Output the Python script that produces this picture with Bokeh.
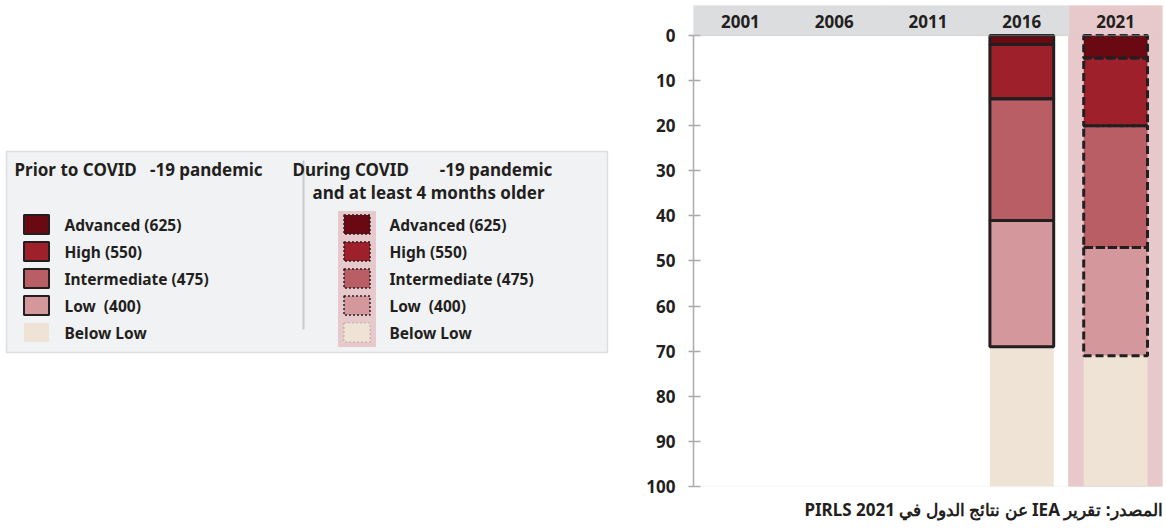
from bokeh.plotting import figure
from bokeh.layouts import row
from bokeh.models import Range1d, ColumnDataSource, FactorRange, BoxAnnotation, Title, FixedTicker
from bokeh.core.properties import value
from bokeh.embed import file_html
from bokeh.resources import INLINE

# ---------------- data ----------------
NB = "\u00a0"
years = ["2001", "2006", "2011", "2016", "2021"]
levels = ["Advanced (625)", "High (550)", "Intermediate (475)", "Low" + NB + " (400)", "Below Low"]
keys = ["adv", "high", "inter", "low", "below"]
pct_2016 = [2, 12, 27, 28, 31]      # prior to COVID-19
pct_2021 = [5, 15, 27, 24, 29]      # during COVID-19
level_colors = ["#6b0913", "#9e202b", "#b95e65", "#d4979b", "#eee3d5"]
yticks = [0, 10, 20, 30, 40, 50, 60, 70, 80, 90, 100]
header_prior = "Prior to COVID" + NB * 3 + "-19 pandemic"
header_during = ["During COVID" + NB * 7 + "-19 pandemic", "and at least 4 months older"]
source_text = "\u202bالمصدر: تقرير IEA عن نتائج الدول في PIRLS 2021\u202c"

FONT = "Noto Sans"
INK = "#231f20"
PINK = "#e8c9cb"
GRAY = "#dcdddf"
H = 529
TOP, BOTTOM = 5, 43          # frame top / bottom borders (px)

# ---------------- chart ----------------
p = figure(width=526, height=H, x_range=FactorRange(*years), y_range=Range1d(100, -6.65),
           output_backend="svg", toolbar_location=None,
           min_border_left=53, min_border_right=4, min_border_top=TOP, min_border_bottom=BOTTOM)
p.xaxis.visible = False
p.grid.visible = False
p.outline_line_color = None
p.background_fill_color = "white"
p.border_fill_color = "white"

# header band and 2021 column background
p.vbar(x=["2021"], top=-6.65, bottom=100, width=1.0, color=PINK)
p.vbar(x=years[:4], top=-6.65, bottom=0, width=1.0, color=GRAY)
p.add_layout(BoxAnnotation(top=0, bottom=100, fill_alpha=0, line_color="#cfd0d2", line_width=1.5))
p.text(x=years, y=[-3.2] * len(years), text=years, text_align="center", text_baseline="middle",
       text_font=value(FONT), text_font_style="bold", text_font_size="17px", text_color=INK)

src16 = ColumnDataSource(dict(year=["2016"], **{k: [v] for k, v in zip(keys, pct_2016)}))
src21 = ColumnDataSource(dict(year=["2021"], **{k: [v] for k, v in zip(keys, pct_2021)}))

p.vbar_stack(keys, x="year", width=0.68, source=src16, fill_color=level_colors, line_color=None)
p.vbar_stack(keys[:4], x="year", width=0.68, source=src16, fill_alpha=0, line_color=INK, line_width=3)
p.vbar_stack(keys, x="year", width=0.68, source=src21, fill_color=level_colors, line_color=None)
p.vbar_stack(keys[:4], x="year", width=0.68, source=src21, fill_alpha=0, line_color=INK,
             line_width=3, line_dash="8 4")

ax = p.yaxis[0]
ax.ticker = FixedTicker(ticks=yticks)
ax.bounds = (0, 100)
ax.axis_line_color = "#a7a9ac"
ax.axis_line_width = 1.5
ax.major_tick_line_color = "#a7a9ac"
ax.major_tick_line_width = 1.5
ax.major_tick_in = 7
ax.major_tick_out = 5
ax.minor_tick_line_color = None
ax.major_label_standoff = 13
ax.major_label_text_font = FONT
ax.major_label_text_font_style = "bold"
ax.major_label_text_font_size = "17px"
ax.major_label_text_color = INK

t = Title(text=source_text, align="right", text_font=FONT, text_font_style="bold",
          text_font_size="17px", text_color=INK, standoff=18)
p.add_layout(t, "below")

# ---------------- legend panel (data units = page pixels) ----------------
lg = figure(width=640, height=H, x_range=Range1d(0, 640), y_range=Range1d(H - BOTTOM, TOP),
            output_backend="svg", toolbar_location=None,
            min_border_left=0, min_border_right=0, min_border_top=TOP, min_border_bottom=BOTTOM,
            x_axis_location=None, y_axis_location=None)
lg.grid.visible = False
lg.outline_line_color = None
lg.background_fill_color = "white"
lg.border_fill_color = "white"

lg.quad(left=6, right=607, top=151, bottom=352, fill_color="#f1f2f4", line_color="#dcdde0", line_width=1.5)
lg.segment(x0=[303], y0=[160], x1=[303], y1=[329], line_color="#c9cacc", line_width=2)

hdr_font = dict(text_font=value(FONT), text_font_style="bold", text_font_size="17px",
                text_color=INK, text_baseline="middle")
item_font = dict(hdr_font, text_font_size="15.5px")
lg.text(x=[14], y=[169], text=[header_prior], text_align="left", **hdr_font)
lg.text(x=[292], y=[169], text=[header_during[0]], text_align="left", **hdr_font)
lg.text(x=[428], y=[192], text=[header_during[1]], text_align="center", **hdr_font)

row_y = [224 + 27 * i for i in range(len(levels))]
edge_alpha = [1, 1, 1, 1, 0]

lg.rect(x=36, y=row_y, width=25, height=19, fill_color=level_colors,
        line_color=INK, line_width=2, line_alpha=edge_alpha)
lg.text(x=64, y=row_y, text=levels, text_align="left", **item_font)

lg.quad(left=338, right=375, top=211, bottom=346, color=PINK)
lg.rect(x=356.5, y=row_y, width=26, height=19, fill_color=level_colors,
        line_color=INK, line_width=1.5, line_dash="2 2", line_alpha=[1, 1, 1, 1, 0.15])
lg.text(x=389, y=row_y, text=levels, text_align="left", **item_font)

layout = row(lg, p)
open("out.html", "w").write(file_html(layout, INLINE))
